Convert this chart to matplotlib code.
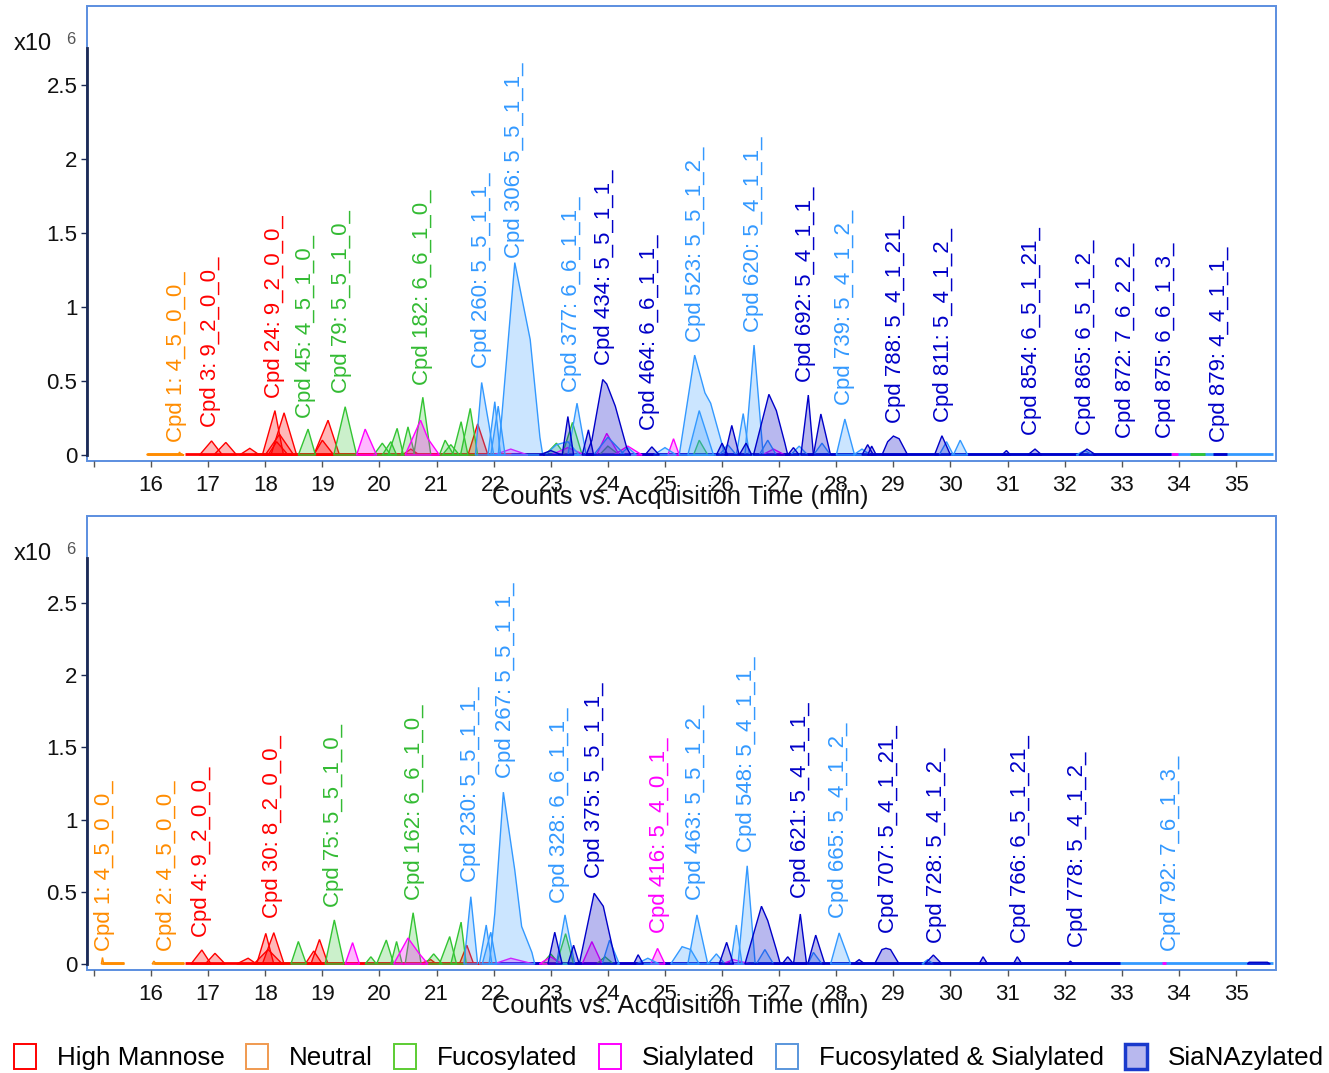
import matplotlib
matplotlib.use("Agg")
import matplotlib.pyplot as plt
from matplotlib.patches import Patch, Rectangle
from matplotlib.colors import to_rgba

# ---------------------------------------------------------------- data
CATEGORIES = ["High Mannose", "Neutral", "Fucosylated", "Sialylated",
              "Fucosylated & Sialylated", "SiaNAzylated"]

X_TICKS = list(range(15, 36))
Y_TICKS = [0, 0.5, 1, 1.5, 2, 2.5]
Y_TICK_LABELS = ["0", "0.5", "1", "1.5", "2", "2.5"]

# ---- top chromatogram: peaks as (time, counts x1e6) vertices
top_high_mannose = [
    [(16.85, 0), (17.06, 0.095), (17.25, 0)],
    [(17.10, 0), (17.31, 0.085), (17.50, 0)],
    [(17.55, 0), (17.73, 0.045), (17.90, 0)],
    [(17.95, 0), (18.17, 0.30), (18.32, 0)],
    [(18.10, 0), (18.33, 0.285), (18.55, 0)],
    [(18.00, 0), (18.25, 0.14), (18.50, 0)],
    [(18.05, 0), (18.20, 0.09), (18.40, 0)],
    [(18.85, 0), (19.10, 0.235), (19.30, 0)],
    [(18.85, 0), (19.00, 0.10), (19.20, 0)],
    [(20.40, 0), (20.55, 0.04), (20.70, 0)],
    [(21.55, 0), (21.72, 0.21), (21.90, 0)],
]
top_neutral = [
    [(15.93, 0), (15.93, 0.006), (16.48, 0.006), (16.50, 0.02), (16.52, 0.006), (16.58, 0)],
]
top_fucosylated = [
    [(18.58, 0), (18.75, 0.175), (18.88, 0)],
    [(19.20, 0), (19.40, 0.326), (19.60, 0)],
    [(19.90, 0), (20.05, 0.08), (20.20, 0)],
    [(20.05, 0), (20.20, 0.09), (20.30, 0)],
    [(20.15, 0), (20.31, 0.18), (20.42, 0)],
    [(20.38, 0), (20.50, 0.19), (20.62, 0)],
    [(20.60, 0), (20.76, 0.39), (20.90, 0)],
    [(21.05, 0), (21.15, 0.10), (21.30, 0)],
    [(21.10, 0), (21.25, 0.07), (21.40, 0)],
    [(21.28, 0), (21.43, 0.225), (21.55, 0)],
    [(21.42, 0), (21.59, 0.315), (21.72, 0)],
    [(22.90, 0), (23.10, 0.08), (23.25, 0)],
    [(23.20, 0), (23.38, 0.22), (23.55, 0)],
    [(23.85, 0), (24.00, 0.06), (24.20, 0)],
    [(25.50, 0), (25.60, 0.10), (25.75, 0)],
]
top_sialylated = [
    [(19.60, 0), (19.75, 0.175), (19.95, 0)],
    [(20.45, 0), (20.72, 0.235), (20.85, 0.11), (21.05, 0)],
    [(22.00, 0), (22.30, 0.04), (22.60, 0)],
    [(23.00, 0), (23.30, 0.05), (23.60, 0)],
    [(23.80, 0), (23.98, 0.146), (24.20, 0)],
    [(24.10, 0), (24.35, 0.06), (24.60, 0)],
    [(25.05, 0), (25.15, 0.11), (25.25, 0)],
    [(26.70, 0), (26.90, 0.04), (27.10, 0)],
]
top_fuc_sial = [
    [(21.68, 0), (21.79, 0.49), (21.92, 0.20), (22.00, 0)],
    [(21.90, 0), (22.02, 0.36), (22.12, 0)],
    [(21.95, 0), (22.08, 0.33), (22.20, 0)],
    [(22.08, 0), (22.14, 0.25), (22.37, 1.30), (22.64, 0.78), (22.81, 0.12), (22.86, 0)],
    [(22.90, 0), (23.10, 0.07), (23.30, 0.09), (23.50, 0)],
    [(23.30, 0), (23.46, 0.35), (23.62, 0)],
    [(23.75, 0), (24.00, 0.12), (24.30, 0)],
    [(24.20, 0), (24.35, 0.05), (24.50, 0)],
    [(24.80, 0), (25.00, 0.05), (25.20, 0)],
    [(25.25, 0), (25.52, 0.675), (25.70, 0.42), (25.80, 0.35), (25.98, 0.10), (26.05, 0)],
    [(25.40, 0), (25.60, 0.30), (25.85, 0)],
    [(25.95, 0), (26.10, 0.07), (26.25, 0)],
    [(26.25, 0), (26.37, 0.28), (26.48, 0)],
    [(26.40, 0), (26.56, 0.743), (26.72, 0)],
    [(26.65, 0), (26.80, 0.10), (26.95, 0)],
    [(27.20, 0), (27.35, 0.06), (27.50, 0)],
    [(27.60, 0), (27.75, 0.08), (27.90, 0)],
    [(28.00, 0), (28.15, 0.243), (28.32, 0)],
    [(28.30, 0), (28.45, 0.04), (28.60, 0)],
    [(29.80, 0), (29.93, 0.09), (30.05, 0)],
    [(30.05, 0), (30.17, 0.10), (30.30, 0)],
    [(32.20, 0), (32.35, 0.03), (32.50, 0)],
]
top_sianaz = [
    [(22.80, 0), (23.00, 0.03), (23.20, 0)],
    [(23.20, 0), (23.30, 0.26), (23.40, 0)],
    [(23.55, 0), (23.66, 0.17), (23.75, 0)],
    [(23.62, 0), (23.72, 0.10), (23.91, 0.51), (23.98, 0.48), (24.13, 0.33), (24.33, 0.05), (24.40, 0)],
    [(24.65, 0), (24.77, 0.055), (24.90, 0)],
    [(25.90, 0), (26.00, 0.08), (26.10, 0)],
    [(26.05, 0), (26.17, 0.20), (26.30, 0)],
    [(26.30, 0), (26.42, 0.08), (26.52, 0)],
    [(26.55, 0), (26.82, 0.41), (26.95, 0.30), (27.10, 0.08), (27.15, 0)],
    [(27.15, 0), (27.25, 0.05), (27.35, 0)],
    [(27.38, 0), (27.51, 0.405), (27.60, 0)],
    [(27.60, 0), (27.73, 0.277), (27.90, 0)],
    [(28.45, 0), (28.55, 0.07), (28.65, 0)],
    [(28.55, 0), (28.62, 0.06), (28.70, 0)],
    [(28.80, 0), (28.90, 0.09), (29.00, 0.128), (29.10, 0.11), (29.25, 0)],
    [(29.72, 0), (29.85, 0.13), (30.00, 0)],
    [(30.90, 0), (30.98, 0.03), (31.05, 0)],
    [(31.35, 0), (31.48, 0.04), (31.60, 0)],
    [(32.25, 0), (32.39, 0.04), (32.55, 0)],
]
top_baselines = {
    "Fucosylated & Sialylated": [(21.7, 35.65)],
    "Fucosylated": [(17.8, 26.5), (34.2, 34.45)],
    "Sialylated": [(19.5, 27.0), (33.87, 33.99)],
    "High Mannose": [(16.6, 22.9)],
    "Neutral": [(15.93, 16.55)],
    "SiaNAzylated": [(22.3, 33.87), (34.6, 34.85)],
}

top_label_text = [
    "Cpd 1: 4_5_0_0_", "Cpd 3: 9_2_0_0_", "Cpd 24: 9_2_0_0_", "Cpd 45: 4_5_1_0_",
    "Cpd 79: 5_5_1_0_", "Cpd 182: 6_6_1_0_", "Cpd 260: 5_5_1_1_", "Cpd 306: 5_5_1_1_",
    "Cpd 377: 6_6_1_1_", "Cpd 434: 5_5_1_1_", "Cpd 464: 6_6_1_1_", "Cpd 523: 5_5_1_2_",
    "Cpd 620: 5_4_1_1_", "Cpd 692: 5_4_1_1_", "Cpd 739: 5_4_1_2_", "Cpd 788: 5_4_1_21_",
    "Cpd 811: 5_4_1_2_", "Cpd 854: 6_5_1_21_", "Cpd 865: 6_5_1_2_", "Cpd 872: 7_6_2_2_",
    "Cpd 875: 6_6_1_3_", "Cpd 879: 4_4_1_1_",
]
top_label_time = [16.44, 17.05, 18.17, 18.71, 19.34, 20.75, 21.79, 22.37, 23.37, 23.94,
                  24.73, 25.53, 26.55, 27.46, 28.14, 29.03, 29.88, 31.42, 32.36, 33.07,
                  33.76, 34.71]
top_label_height = [0.0, 0.10, 0.297, 0.162, 0.331, 0.385, 0.50, 1.243, 0.338, 0.52,
                    0.081, 0.676, 0.743, 0.405, 0.25, 0.128, 0.135, 0.047, 0.047, 0.027,
                    0.027, 0.0]
top_label_cat = [1, 0, 0, 2, 2, 2, 4, 4, 4, 5, 5, 4, 4, 5, 4, 5, 5, 5, 5, 5, 5, 5]

# ---- bottom chromatogram
bot_high_mannose = [
    [(16.70, 0), (16.89, 0.097), (17.05, 0)],
    [(16.95, 0), (17.12, 0.074), (17.30, 0)],
    [(17.50, 0), (17.70, 0.04), (17.85, 0)],
    [(17.85, 0), (18.01, 0.212), (18.15, 0)],
    [(17.95, 0), (18.15, 0.217), (18.33, 0)],
    [(17.80, 0), (18.05, 0.10), (18.30, 0)],
    [(18.70, 0), (18.85, 0.09), (19.00, 0)],
    [(18.80, 0), (18.95, 0.17), (19.10, 0)],
    [(20.70, 0), (20.90, 0.03), (21.00, 0)],
    [(21.40, 0), (21.53, 0.13), (21.65, 0)],
]
bot_neutral = [
    [(15.13, 0), (15.15, 0.045), (15.17, 0.005), (15.52, 0.005), (15.53, 0)],
    [(16.02, 0), (16.05, 0.02), (16.08, 0.005), (16.57, 0.005), (16.58, 0)],
]
bot_fucosylated = [
    [(18.45, 0), (18.58, 0.156), (18.72, 0)],
    [(19.05, 0), (19.21, 0.305), (19.38, 0)],
    [(19.75, 0), (19.85, 0.05), (19.95, 0)],
    [(19.95, 0), (20.12, 0.166), (20.25, 0)],
    [(20.20, 0), (20.30, 0.156), (20.40, 0)],
    [(20.45, 0), (20.59, 0.355), (20.73, 0)],
    [(20.80, 0), (20.95, 0.07), (21.10, 0)],
    [(21.05, 0), (21.23, 0.19), (21.35, 0)],
    [(21.25, 0), (21.43, 0.29), (21.52, 0)],
    [(22.85, 0), (23.00, 0.07), (23.15, 0)],
    [(23.10, 0), (23.26, 0.21), (23.40, 0)],
    [(23.80, 0), (23.95, 0.05), (24.10, 0)],
]
bot_sialylated = [
    [(19.40, 0), (19.53, 0.148), (19.65, 0)],
    [(20.25, 0), (20.50, 0.18), (20.70, 0.07), (20.85, 0)],
    [(22.00, 0), (22.30, 0.04), (22.70, 0)],
    [(22.80, 0), (23.00, 0.05), (23.20, 0)],
    [(23.55, 0), (23.72, 0.155), (23.90, 0)],
    [(24.75, 0), (24.87, 0.108), (25.00, 0)],
    [(26.00, 0), (26.20, 0.03), (26.50, 0)],
]
bot_fuc_sial = [
    [(21.48, 0), (21.60, 0.466), (21.72, 0)],
    [(21.75, 0), (21.87, 0.27), (21.97, 0)],
    [(21.80, 0), (21.95, 0.22), (22.05, 0)],
    [(21.92, 0), (21.96, 0.12), (22.02, 0.35), (22.17, 1.19), (22.37, 0.65), (22.49, 0.26), (22.67, 0.08), (22.72, 0)],
    [(23.10, 0), (23.25, 0.34), (23.42, 0)],
    [(23.90, 0), (24.03, 0.166), (24.20, 0)],
    [(24.50, 0), (24.70, 0.04), (24.90, 0)],
    [(25.10, 0), (25.30, 0.12), (25.45, 0.10), (25.60, 0)],
    [(25.40, 0), (25.56, 0.34), (25.75, 0)],
    [(25.75, 0), (25.90, 0.07), (26.05, 0)],
    [(26.15, 0), (26.25, 0.27), (26.35, 0)],
    [(26.28, 0), (26.44, 0.68), (26.58, 0)],
    [(26.60, 0), (26.75, 0.10), (26.90, 0)],
    [(27.50, 0), (27.60, 0.08), (27.75, 0)],
    [(27.90, 0), (28.05, 0.215), (28.25, 0)],
    [(29.50, 0), (29.60, 0.03), (29.70, 0)],
]
bot_sianaz = [
    [(22.95, 0), (23.07, 0.22), (23.20, 0)],
    [(23.30, 0), (23.40, 0.13), (23.50, 0)],
    [(23.50, 0), (23.76, 0.49), (23.92, 0.40), (24.10, 0.08), (24.15, 0)],
    [(24.45, 0), (24.53, 0.064), (24.62, 0)],
    [(25.95, 0), (26.08, 0.15), (26.20, 0)],
    [(26.40, 0), (26.69, 0.40), (26.80, 0.30), (26.95, 0.10), (27.02, 0)],
    [(27.05, 0), (27.15, 0.05), (27.25, 0)],
    [(27.25, 0), (27.37, 0.346), (27.48, 0)],
    [(27.50, 0), (27.64, 0.20), (27.80, 0)],
    [(28.30, 0), (28.40, 0.03), (28.50, 0)],
    [(28.67, 0), (28.80, 0.10), (28.87, 0.109), (28.95, 0.10), (29.10, 0)],
    [(29.55, 0), (29.70, 0.062), (29.85, 0)],
    [(30.50, 0), (30.57, 0.05), (30.65, 0)],
    [(31.10, 0), (31.17, 0.05), (31.25, 0)],
    [(32.05, 0), (32.10, 0.02), (32.15, 0)],
    [(35.20, 0), (35.23, 0.012), (35.55, 0.012), (35.60, 0)],
]
bot_baselines = {
    "Fucosylated & Sialylated": [(21.0, 35.65)],
    "Fucosylated": [(17.8, 24.0)],
    "Sialylated": [(19.4, 26.5), (33.7, 33.78)],
    "High Mannose": [(16.6, 22.0)],
    "Neutral": [(15.15, 15.52), (16.05, 16.57)],
    "SiaNAzylated": [(22.0, 32.97)],
}

bot_label_text = [
    "Cpd 1: 4_5_0_0_", "Cpd 2: 4_5_0_0_", "Cpd 4: 9_2_0_0_", "Cpd 30: 8_2_0_0_",
    "Cpd 75: 5_5_1_0_", "Cpd 162: 6_6_1_0_", "Cpd 230: 5_5_1_1_", "Cpd 267: 5_5_1_1_",
    "Cpd 328: 6_6_1_1_", "Cpd 375: 5_5_1_1_", "Cpd 416: 5_4_0_1_", "Cpd 463: 5_5_1_2_",
    "Cpd 548: 5_4_1_1_", "Cpd 621: 5_4_1_1_", "Cpd 665: 5_4_1_2_", "Cpd 707: 5_4_1_21_",
    "Cpd 728: 5_4_1_2_", "Cpd 766: 6_5_1_21_", "Cpd 778: 5_4_1_2_", "Cpd 792: 7_6_1_3_",
]
bot_label_time = [15.19, 16.27, 16.89, 18.13, 19.19, 20.61, 21.59, 22.20, 23.16, 23.77,
                  24.91, 25.54, 26.42, 27.37, 28.04, 28.91, 29.75, 31.22, 32.23, 33.85]
bot_label_height = [0.0, 0.0, 0.099, 0.229, 0.307, 0.353, 0.48, 1.196, 0.332, 0.503,
                    0.123, 0.353, 0.688, 0.365, 0.226, 0.123, 0.053, 0.053, 0.03, 0.0]
bot_label_cat = [1, 1, 0, 0, 2, 2, 4, 4, 4, 5, 3, 4, 4, 5, 4, 5, 5, 5, 5, 4]

# ---------------------------------------------------------------- styles
EDGE = {"High Mannose": "#ff0000", "Neutral": "#ff8c00", "Fucosylated": "#33c433",
        "Sialylated": "#ff00ff", "Fucosylated & Sialylated": "#3399ff",
        "SiaNAzylated": "#0000c8"}
ALPHA = {"High Mannose": 0.28, "Neutral": 0.25, "Fucosylated": 0.25,
         "Sialylated": 0.28, "Fucosylated & Sialylated": 0.25, "SiaNAzylated": 0.28}
TEXT_COLOR = {"High Mannose": "#ff0000", "Neutral": "#ff8c00", "Fucosylated": "#33bb33",
              "Sialylated": "#ff00ff", "Fucosylated & Sialylated": "#3399ff",
              "SiaNAzylated": "#0000c8"}
LEG_EDGE = ["#ff0000", "#f09a50", "#5ccc33", "#ff00ff", "#5a96dc", "#1a3acc"]
LEG_FACE = ["white", "white", "white", "white", "white", "#b8b8ee"]
FRAME = "#5b8ee0"
DARK = "#1c2a55"
FONT = "Liberation Sans"

W, H = 1329, 1073
fig = plt.figure(figsize=(W / 100, H / 100), dpi=100)


def add_axes_px(l, t, r, b):
    return fig.add_axes([l / W, 1 - b / H, (r - l) / W, (b - t) / H])


def draw_panel(ax, peaks_by_cat, baselines, ltext, ltime, lheight, lcat,
               ylim, yaxis_top, title_y):
    ax.set_xlim(14.879, 35.70)
    ax.set_ylim(*ylim)
    # baselines
    for cat, segs in baselines.items():
        for a, b in segs:
            ax.plot([a, b], [0.004, 0.004], color=EDGE[cat], lw=2.0, zorder=2,
                    solid_capstyle="butt")
    # peaks
    for z, cat in enumerate(CATEGORIES):
        for pk in peaks_by_cat[cat]:
            xs = [p[0] for p in pk]
            ys = [p[1] for p in pk]
            ax.fill(xs, ys, facecolor=to_rgba(EDGE[cat], ALPHA[cat]),
                    edgecolor=EDGE[cat], lw=1.0, zorder=3 + z)
    # labels
    for txt, t, h, c in zip(ltext, ltime, lheight, lcat):
        cat = CATEGORIES[c]
        ax.annotate(txt, xy=(t, h), xytext=(0, 9.4), textcoords="offset points",
                    rotation=90, ha="center", va="bottom", color=TEXT_COLOR[cat],
                    fontsize=16, family=FONT, zorder=20)
    # frame
    for s in ("top", "right", "bottom"):
        ax.spines[s].set_visible(False)
    ax.spines["left"].set_color(DARK)
    ax.spines["left"].set_linewidth(2.0)
    ax.spines["left"].set_bounds(0, yaxis_top)
    ax.add_patch(Rectangle((0, 0), 1, 1, transform=ax.transAxes, fill=False,
                           edgecolor=FRAME, lw=1.4, clip_on=False, zorder=1))
    ax.set_yticks(Y_TICKS)
    ax.set_yticklabels(Y_TICK_LABELS)
    ax.set_xticks(X_TICKS)
    ax.set_xticklabels([""] + [str(v) for v in X_TICKS[1:]])
    ax.tick_params(axis="y", direction="out", length=4, width=1, color=DARK, pad=3,
                   labelsize=16)
    ax.tick_params(axis="x", direction="out", length=4, width=1, color="#555555",
                   pad=6, labelsize=16)
    for lab in ax.get_xticklabels() + ax.get_yticklabels():
        lab.set_family(FONT)
        lab.set_color("#111111")
    # x10^6 marker
    fig.text(14 / W, 1 - (title_y + 4) / H, "x10", fontsize=17, family=FONT,
             ha="left", va="center", color="#111111")
    fig.text(66 / W, 1 - title_y / H, "6", fontsize=12, family=FONT,
             ha="left", va="center", color="#555555")


ax1 = add_axes_px(87, 6, 1276, 461)
draw_panel(ax1,
           {"High Mannose": top_high_mannose, "Neutral": top_neutral,
            "Fucosylated": top_fucosylated, "Sialylated": top_sialylated,
            "Fucosylated & Sialylated": top_fuc_sial, "SiaNAzylated": top_sianaz},
           top_baselines, top_label_text, top_label_time, top_label_height,
           top_label_cat, (-6 / 148, 449 / 148), 2.75, 40)
fig.text(680 / W, 1 - 497 / H, "Counts vs. Acquisition Time (min)", fontsize=18.4,
         family=FONT, ha="center", va="center", color="#111111")

ax2 = add_axes_px(87, 516, 1276, 970)
draw_panel(ax2,
           {"High Mannose": bot_high_mannose, "Neutral": bot_neutral,
            "Fucosylated": bot_fucosylated, "Sialylated": bot_sialylated,
            "Fucosylated & Sialylated": bot_fuc_sial, "SiaNAzylated": bot_sianaz},
           bot_baselines, bot_label_text, bot_label_time, bot_label_height,
           bot_label_cat, (-6 / 144.4, 448 / 144.4), 2.81, 550)
fig.text(680 / W, 1 - 1006 / H, "Counts vs. Acquisition Time (min)", fontsize=18.4,
         family=FONT, ha="center", va="center", color="#111111")

# legend
handles = [Patch(facecolor=LEG_FACE[i], edgecolor=LEG_EDGE[i],
                 lw=(2.5 if i == 5 else 1.4)) for i in range(len(CATEGORIES))]
leg = fig.legend(handles, CATEGORIES, loc="center left",
                 bbox_to_anchor=(14 / W, 1 - 1057 / H), ncol=6, frameon=False,
                 prop={"family": FONT, "size": 18.7},
                 handlelength=0.85, handleheight=1.1, handletextpad=0.81,
                 columnspacing=0.81, borderpad=0, borderaxespad=0)

fig.savefig("out.png", dpi=100)
